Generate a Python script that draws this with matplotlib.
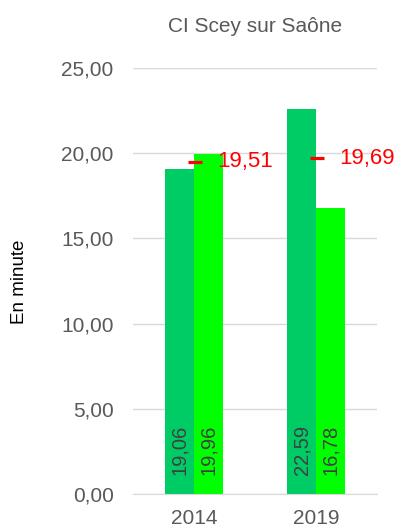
import matplotlib.pyplot as plt
import numpy as np

plt.rcParams['font.family'] = ['Liberation Sans', 'DejaVu Sans']

years = ['2014', '2019']
serie_a = [19.06, 22.59]
serie_b = [19.96, 16.78]
moyenne = [19.51, 19.69]
lab_a = ['19,06', '22,59']
lab_b = ['19,96', '16,78']
lab_moy = ['19,51', '19,69']
yticks = [0, 5, 10, 15, 20, 25]
ytick_labels = ['0,00', '5,00', '10,00', '15,00', '20,00', '25,00']

fig = plt.figure(figsize=(4.01, 5.30), dpi=100, facecolor='white')
ax = fig.add_axes([133/401, 1-494/530, 244/401, 426/530])

x = np.arange(len(years))
w = 0.2377
ax.bar(x - w/2, serie_a, w, color='#00cc66', zorder=2)
ax.bar(x + w/2, serie_b, w, color='#00ff00', zorder=2)

# valeurs verticales en bas des barres
for i in range(len(years)):
    ax.text(x[i] - w/2, 1.1, lab_a[i], rotation=90, ha='center', va='bottom',
            fontsize=14.5, color='#404040', zorder=3)
    ax.text(x[i] + w/2, 1.1, lab_b[i], rotation=90, ha='center', va='bottom',
            fontsize=14.5, color='#404040', zorder=3)

# moyenne
ax.plot(x + 0.01, moyenne, linestyle='none', marker='_', markersize=10, markeredgewidth=2.3,
        color='#ff0000', zorder=4)
for i in range(len(years)):
    ax.text(x[i] + 0.19, moyenne[i], lab_moy[i], ha='left', va='center',
            fontsize=16, color='#ff0000', zorder=4)

ax.set_xlim(-0.5, 1.5)
ax.set_ylim(0, 25)
ax.set_yticks(yticks)
ax.set_yticklabels(ytick_labels)
ax.set_xticks(x)
ax.set_xticklabels(years)
ax.grid(axis='y', color='#d9d9d9', linewidth=1, zorder=0)
for s in ['top', 'right', 'left']:
    ax.spines[s].set_visible(False)
ax.spines['bottom'].set_color('#d9d9d9')
ax.tick_params(axis='both', length=0, labelsize=15, labelcolor='#595959', pad=14)
ax.tick_params(axis='x', pad=11)

ax.set_title('CI Scey sur Saône', fontsize=15, color='#595959', pad=26)
fig.text(19/401, 1-282/530, 'En minute', rotation=90, ha='center', va='center',
         fontsize=13.5, color='#000000')

fig.savefig('out.png', dpi=100)
